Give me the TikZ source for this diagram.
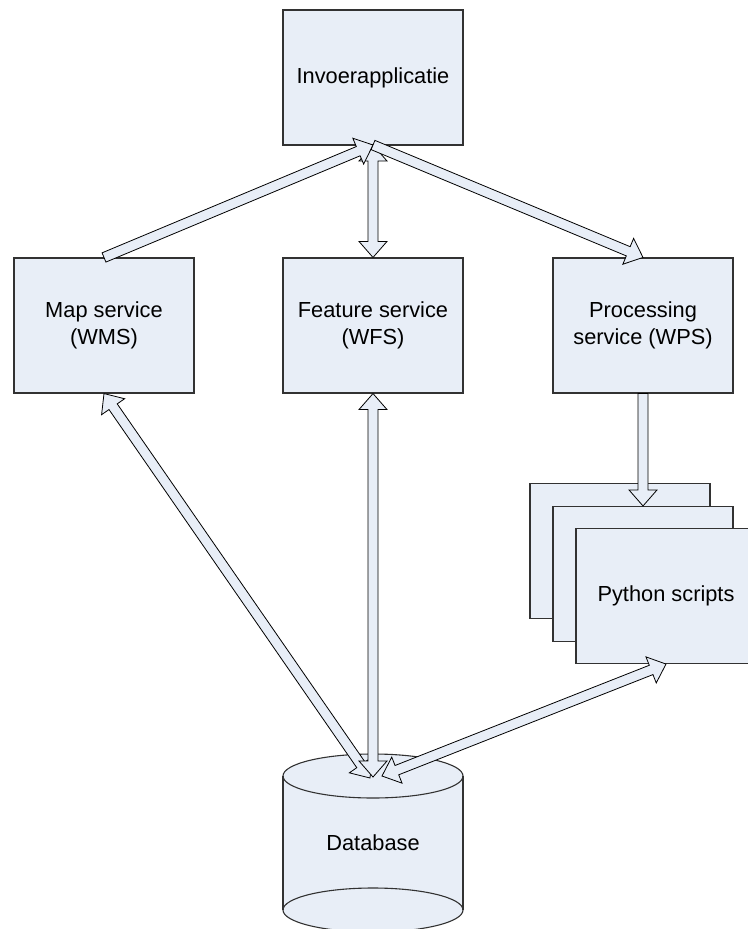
\documentclass[tikz,border=0pt]{standalone}
\usepackage{fontspec}
\setmainfont{Liberation Sans}
\usetikzlibrary{calc}
\definecolor{fillc}{RGB}{232,238,247}
\definecolor{linec}{RGB}{50,50,50}
\tikzset{
  box/.style={draw=linec, line width=1.1pt, fill=fillc, minimum width=180pt, minimum height=135pt,
    inner sep=0pt, align=center, font=\fontsize{21.8}{27}\selectfont},
  arr/.style={draw=black, line width=0.8pt, fill=fillc, line join=miter},
  cyl/.style={draw=linec, line width=1.1pt},
}
\def\sw{5pt}
\def\hw{14pt}
\def\hl{16pt}
% single block arrow from #1 to #2
\newcommand{\sblock}[2]{%
  \coordinate (hb) at ($(#2)!\hl!(#1)$);
  \filldraw[arr] ($(#1)!\sw!90:(#2)$) -- ($(hb)!\sw!-90:(#1)$) -- ($(hb)!\hw!-90:(#1)$) -- (#2)
    -- ($(hb)!\hw!90:(#1)$) -- ($(hb)!\sw!90:(#1)$) -- ($(#1)!\sw!-90:(#2)$) -- cycle;
}
% double block arrow between #1 and #2
\newcommand{\dblock}[2]{%
  \coordinate (ha) at ($(#1)!\hl!(#2)$);
  \coordinate (hb) at ($(#2)!\hl!(#1)$);
  \filldraw[arr] (#1) -- ($(ha)!\hw!90:(#2)$) -- ($(ha)!\sw!90:(#2)$) -- ($(hb)!\sw!-90:(#1)$)
    -- ($(hb)!\hw!-90:(#1)$) -- (#2) -- ($(hb)!\hw!90:(#1)$) -- ($(hb)!\sw!90:(#1)$)
    -- ($(ha)!\sw!-90:(#2)$) -- ($(ha)!\hw!-90:(#2)$) -- cycle;
}
\begin{document}
\begin{tikzpicture}[x=1pt,y=-1pt]
\useasboundingbox (0,0) rectangle (747,929);
% boxes
\node[box] (inv) at (373,77.5) {Invoerapplicatie};
\node[box] (wms) at (104,325.5) {Map service\\(WMS)};
\node[box] (wfs) at (373,325.5) {Feature service\\(WFS)};
\node[box] (wps) at (643,325.5) {Processing\\service (WPS)};
% python stack
\node[box] (py3) at (620,551) {};
\node[box] (py2) at (643,574) {};
\node[box] (py1) at (666,596) {Python scripts};
% database cylinder
\fill[fillc] (283,910) arc[start angle=180, end angle=360, x radius=90pt, y radius=22pt]
  -- (463,776) arc[start angle=0, end angle=180, x radius=90pt, y radius=22pt] -- cycle;
\draw[cyl] (373,776) ellipse [x radius=90pt, y radius=22pt];
\draw[cyl] (373,910) ellipse [x radius=90pt, y radius=22pt];
\draw[cyl] (283,776) -- (283,910);
\draw[cyl] (463,776) -- (463,910);
\node[font=\fontsize{21.8}{27}\selectfont] (db) at (373,843) {Database};
\coordinate (dbA) at (370,778);
\coordinate (dbB) at (373,777);
\coordinate (dbC) at (382,776);
\coordinate (invS) at (373,145);
% connectors
\dblock{wfs.north}{invS}
\sblock{wms.north}{invS}
\sblock{invS}{wps.north}
\sblock{wps.south}{py2.north}
\dblock{wms.south}{dbA}
\dblock{wfs.south}{dbB}
\dblock{py1.south}{dbC}
\end{tikzpicture}
\end{document}
